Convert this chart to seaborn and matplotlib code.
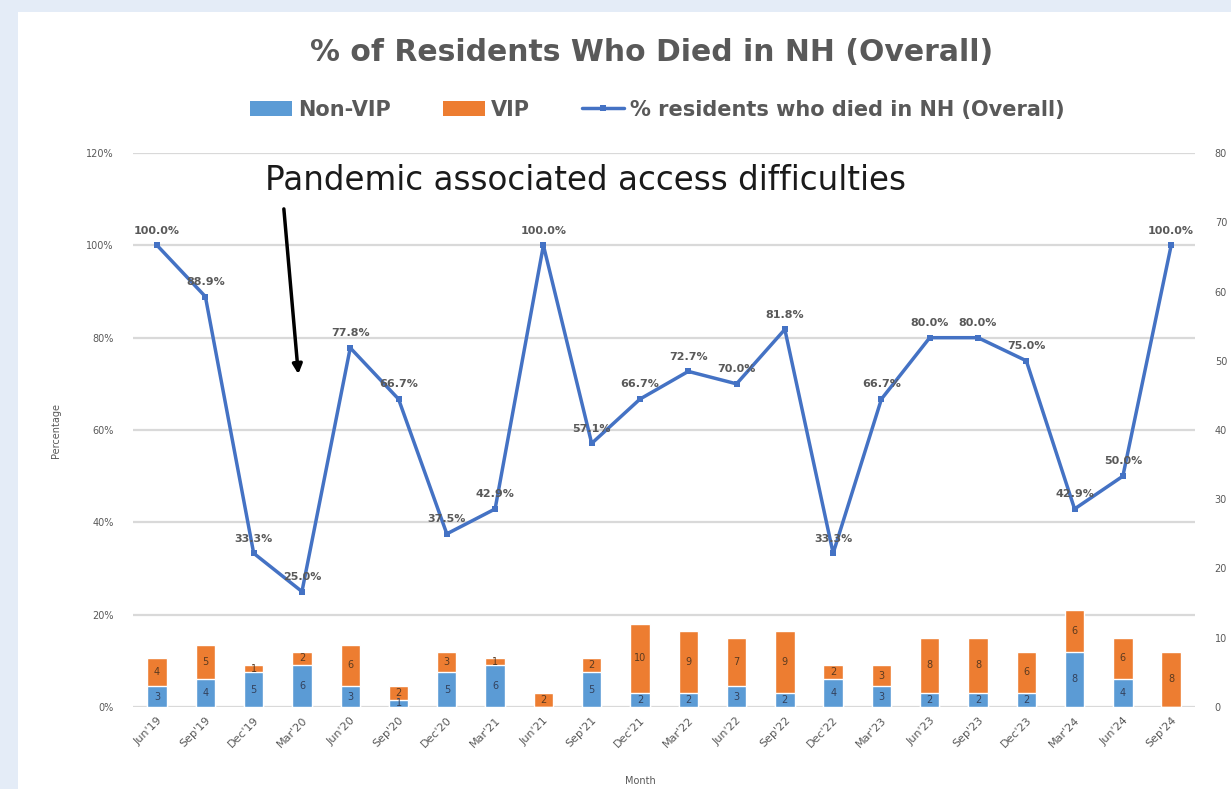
import matplotlib
matplotlib.use("Agg")
import numpy as np
import pandas as pd
import seaborn as sns
import matplotlib.pyplot as plt
from matplotlib.patches import Patch, Rectangle
from matplotlib.lines import Line2D

# ---------------- data ----------------
months = ["Jun'19", "Sep'19", "Dec'19", "Mar'20", "Jun'20", "Sep'20", "Dec'20",
          "Mar'21", "Jun'21", "Sep'21", "Dec'21", "Mar'22", "Jun'22", "Sep'22",
          "Dec'22", "Mar'23", "Jun'23", "Sep'23", "Dec'23", "Mar'24", "Jun'24",
          "Sep'24"]
non_vip = [3, 4, 5, 6, 3, 1, 5, 6, 0, 5, 2, 2, 3, 2, 4, 3, 2, 2, 2, 8, 4, 0]
vip = [4, 5, 1, 2, 6, 2, 3, 1, 2, 2, 10, 9, 7, 9, 2, 3, 8, 8, 6, 6, 6, 8]
pct_died = [100.0, 88.9, 33.3, 25.0, 77.8, 66.7, 37.5, 42.9, 100.0, 57.1, 66.7,
            72.7, 70.0, 81.8, 33.3, 66.7, 80.0, 80.0, 75.0, 42.9, 50.0, 100.0]
left_ticks = [0, 20, 40, 60, 80, 100, 120]
right_ticks = [0, 10, 20, 30, 40, 50, 60, 70, 80]

title = "% of Residents Who Died in NH (Overall)"
line_name = "% residents who died in NH (Overall)"
annotation = "Pandemic associated access difficulties"

BLUE = "#5B9BD5"
ORANGE = "#ED7D31"
LINE = "#4472C4"
GREY = "#595959"

df = pd.DataFrame({"month": months, "non_vip": non_vip, "vip": vip})
df["total"] = df["non_vip"] + df["vip"]
x_idx = np.arange(len(months))

# ---------------- figure ----------------
sns.set_theme(style="white")
plt.rcParams["font.family"] = ["DejaVu Sans"]

fig, ax = plt.subplots(figsize=(12.31, 7.89), dpi=100)
fig.patch.set_facecolor("#E4ECF7")
fig.patches.append(Rectangle((18 / 1231, 0), 1, 1 - 12 / 789,
                             transform=fig.transFigure, facecolor="white",
                             edgecolor="none", zorder=-10))
fig.subplots_adjust(left=0.108, right=0.971, bottom=0.104, top=0.806)

# bars (count axis, right side)
sns.barplot(data=df, x="month", y="total", color=ORANGE, saturation=1,
            width=0.4, ax=ax, zorder=3)
sns.barplot(data=df, x="month", y="non_vip", color=BLUE, saturation=1,
            width=0.4, ax=ax, zorder=4)

# line (percentage axis, left side)
axL = ax.twinx()
sns.lineplot(x=x_idx, y=pct_died, ax=axL, color=LINE, linewidth=2.5,
             marker="s", markersize=4.5, markeredgewidth=0, zorder=5)

axL.set_zorder(ax.get_zorder() - 1)
ax.patch.set_visible(False)
axL.patch.set_visible(True)
axL.patch.set_facecolor("white")

# count axis on the right
ax.set_xlim(-0.5, len(months) - 0.5)
ax.set_ylim(right_ticks[0], right_ticks[-1])
ax.set_yticks(right_ticks)
ax.yaxis.tick_right()
ax.yaxis.set_label_position("right")
ax.tick_params(axis="y", length=0, labelsize=7, colors=GREY, pad=14,
               left=False, labelleft=False, right=False, labelright=True)
ax.set_xlabel("")
ax.set_ylabel("")
ax.set_xticks(x_idx)
ax.set_xticklabels(months, rotation=45, ha="right", rotation_mode="anchor",
                   fontsize=8, color=GREY)
ax.tick_params(axis="x", length=0, pad=6)
for s in ax.spines.values():
    s.set_visible(False)

for i, (nv, v) in enumerate(zip(non_vip, vip)):
    if nv > 0:
        ax.text(i, nv / 2, str(nv), ha="center", va="center", fontsize=7,
                color="#33415C", zorder=6)
    if v > 0:
        ax.text(i, nv + v / 2, str(v), ha="center", va="center", fontsize=7,
                color="#5A3A20", zorder=6)

# percentage axis on the left
axL.set_xlim(-0.5, len(months) - 0.5)
axL.set_ylim(left_ticks[0], left_ticks[-1])
axL.set_yticks(left_ticks)
axL.set_yticklabels([f"{t}%" for t in left_ticks])
axL.yaxis.tick_left()
axL.yaxis.set_label_position("left")
axL.tick_params(axis="y", length=0, labelsize=7, colors=GREY, pad=14,
                right=False, labelright=False, left=False, labelleft=True)
axL.set_ylabel("Percentage", fontsize=7, color=GREY)
axL.yaxis.set_label_coords(-0.068, 0.5)
axL.grid(axis="y", color="#D9D9D9", linewidth=1.6)
axL.set_axisbelow(True)
for s in axL.spines.values():
    s.set_visible(False)

for i, p in enumerate(pct_died):
    axL.annotate(f"{p:.1f}%", (i, p), xytext=(0, 7), textcoords="offset points",
                 ha="center", va="bottom", fontsize=8, fontweight="bold",
                 color=GREY, zorder=7)

axL.text(2.24, 114.0, annotation, ha="left", va="center", fontsize=23.5,
         color="#1A1A1A")
axL.annotate("", xy=(2.93, 71.5), xytext=(2.62, 108.5),
             arrowprops=dict(arrowstyle="-|>", color="black", lw=2.5,
                             mutation_scale=14))

# title and legend
fig.text(0.529, 0.934, title, ha="center", va="center", fontsize=21.5,
         fontweight="bold", color=GREY)
handles = [Patch(facecolor=BLUE, edgecolor="none"),
           Patch(facecolor=ORANGE, edgecolor="none"),
           Line2D([0], [0], color=LINE, linewidth=2.5, marker="s",
                  markersize=4.5, markeredgewidth=0)]
leg = fig.legend(handles, ["Non-VIP", "VIP", line_name], loc="center",
                 bbox_to_anchor=(0.534, 0.861), ncol=3, frameon=False,
                 prop={"size": 15, "weight": "bold"}, labelcolor=GREY,
                 handlelength=2.0, handletextpad=0.3, columnspacing=2.5)

fig.text(0.52, 0.004, "Month", ha="center", va="bottom", fontsize=7,
         color=GREY)

fig.savefig("out.png", dpi=100, facecolor=fig.get_facecolor())
